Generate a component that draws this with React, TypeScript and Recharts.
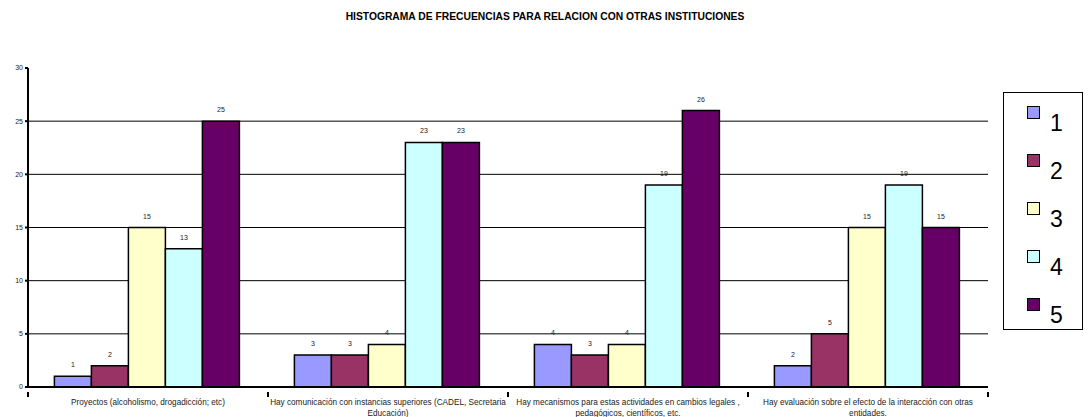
import { BarChart, Bar, XAxis, YAxis, CartesianGrid, LabelList } from "recharts";

const categories = [
  "Proyectos (alcoholismo, drogadicción; etc)",
  "Hay comunicación con instancias superiores (CADEL, Secretaria Educación)",
  "Hay mecanismos para estas actividades en cambios legales , pedagógicos, científicos, etc.",
  "Hay evaluación sobre el efecto de la interacción con otras entidades.",
];
const serie1 = [1, 3, 4, 2];
const serie2 = [2, 3, 3, 5];
const serie3 = [15, 4, 4, 15];
const serie4 = [13, 23, 19, 19];
const serie5 = [25, 23, 26, 15];
const seriesNames = ["1", "2", "3", "4", "5"];
const seriesColors = ["#9999FF", "#993366", "#FFFFCC", "#CCFFFF", "#660066"];
const yTicks = [0, 5, 10, 15, 20, 25, 30];
const gridValues = [5, 10, 15, 20, 25];

const data = categories.map((name, i) => ({
  name,
  s1: serie1[i],
  s2: serie2[i],
  s3: serie3[i],
  s4: serie4[i],
  s5: serie5[i],
}));

const FONT = "'Liberation Sans', Arial, sans-serif";
const BAND = 240;
const LABEL_SIZE = 8.2;

let ctx: CanvasRenderingContext2D | null = null;
function wrapText(str: string, maxWidth: number): string[] {
  if (!ctx) ctx = document.createElement("canvas").getContext("2d");
  if (!ctx) return [str];
  ctx.font = `${LABEL_SIZE}px 'Liberation Sans', Arial, sans-serif`;
  const words = str.split(" ");
  const lines: string[] = [];
  let cur = "";
  for (const w of words) {
    const test = cur ? cur + " " + w : w;
    if (cur && ctx.measureText(test).width > maxWidth) {
      lines.push(cur);
      cur = w;
    } else {
      cur = test;
    }
  }
  if (cur) lines.push(cur);
  return lines;
}

function CategoryTick(props: any) {
  const { x, y, payload, index } = props;
  const lines = wrapText(String(payload.value), 238);
  return (
    <g>
      <line x1={x - BAND / 2} y1={y - 3} x2={x - BAND / 2} y2={y + 2} stroke="#000" strokeWidth={2} />
      {index === categories.length - 1 && (
        <line x1={x + BAND / 2} y1={y - 3} x2={x + BAND / 2} y2={y + 2} stroke="#000" strokeWidth={2} />
      )}
      <text x={x} y={y + 10} textAnchor="middle" fontSize={LABEL_SIZE} fontFamily={FONT} fill="#222">
        {lines.map((l, i) => (
          <tspan key={i} x={x} dy={i === 0 ? 0 : 10.5}>
            {l}
          </tspan>
        ))}
      </text>
    </g>
  );
}

function ValueLabel(props: any) {
  const { x, y, width, value } = props;
  return (
    <text x={x + width / 2} y={y - 9} textAnchor="middle" fontSize={7} fill="#222" fontFamily={FONT}>
      {value}
    </text>
  );
}

function LegendBox() {
  return (
    <div
      style={{
        position: "absolute",
        left: 1003,
        top: 92,
        width: 80,
        height: 238,
        border: "1.5px solid #000",
        background: "#fff",
        boxSizing: "border-box",
        paddingTop: 13,
      }}
    >
      {seriesNames.map((n, i) => (
        <div key={n} style={{ height: 48, position: "relative" }}>
          <div
            style={{
              position: "absolute",
              left: 23,
              top: 0,
              width: 11,
              height: 11,
              background: seriesColors[i],
              border: "1.5px solid #000",
            }}
          />
          <div
            style={{
              position: "absolute",
              left: 46,
              top: 5,
              fontSize: 23,
              fontFamily: FONT,
              lineHeight: "24px",
              color: "#000",
            }}
          >
            {n}
          </div>
        </div>
      ))}
    </div>
  );
}

export default function App() {
  const keys = ["s1", "s2", "s3", "s4", "s5"];
  return (
    <div style={{ position: "fixed", left: 0, top: 0, width: 1088, height: 417, background: "#fff" }}>
      <BarChart
        width={1088}
        height={417}
        data={data}
        margin={{ top: 68, right: 100, left: 0, bottom: 0 }}
        barCategoryGap="11%"
        barGap={0}
        style={{ position: "absolute", left: 0, top: 0 }}
      >
        <text
          x={545}
          y={20}
          textAnchor="middle"
          fontSize={10.3}
          fontWeight="bold"
          fontFamily={FONT}
          fill="#000"
        >
          HISTOGRAMA DE FRECUENCIAS PARA RELACION CON OTRAS INSTITUCIONES
        </text>
        <CartesianGrid horizontal vertical={false} horizontalValues={gridValues} stroke="#000" strokeWidth={1} />
        <XAxis
          dataKey="name"
          tickLine={false}
          axisLine={{ stroke: "#000", strokeWidth: 2 }}
          tick={<CategoryTick />}
          interval={0}
          height={30}
        />
        <YAxis
          domain={[0, 30]}
          ticks={yTicks}
          interval={0}
          width={28}
          tickSize={3}
          tickLine={{ stroke: "#000", strokeWidth: 2 }}
          axisLine={{ stroke: "#000", strokeWidth: 2 }}
          tick={{ fontSize: 7, fill: "#222", fontFamily: FONT }}
        />
        {keys.map((k, i) => (
          <Bar
            key={k}
            dataKey={k}
            name={seriesNames[i]}
            fill={seriesColors[i]}
            stroke="#000"
            strokeWidth={1.5}
            isAnimationActive={false}
          >
            <LabelList dataKey={k} content={<ValueLabel />} />
          </Bar>
        ))}
      </BarChart>
      <LegendBox />
    </div>
  );
}
